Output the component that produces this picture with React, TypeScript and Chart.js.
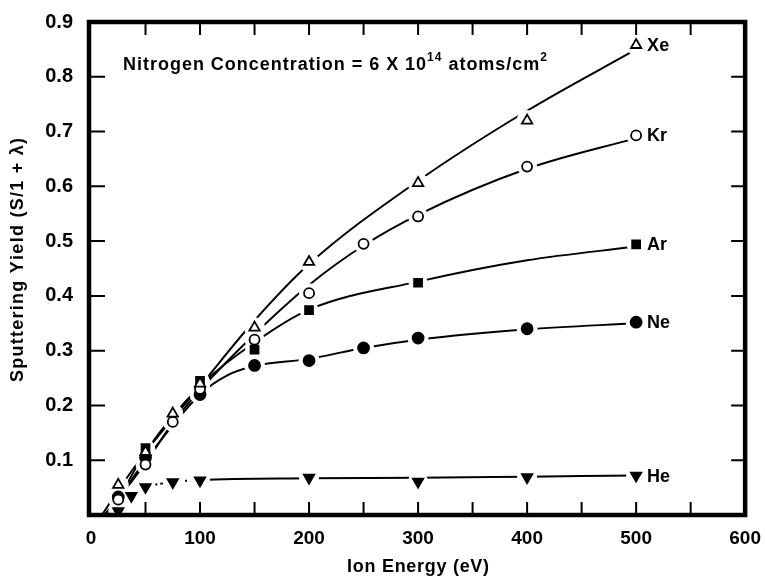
import React, { useEffect, useRef } from "react";
import { Chart, registerables } from "chart.js";

Chart.register(...registerables);

// Axis ticks
const energyTicks = [0, 100, 200, 300, 400, 500, 600];
const yieldTicks = [0.1, 0.2, 0.3, 0.4, 0.5, 0.6, 0.7, 0.8, 0.9];

// Measured sputtering yields (eV, S/1+λ)
const xeEnergy = [25, 50, 75, 100, 150, 200, 300, 400, 500];
const xeYield = [0.055, 0.115, 0.185, 0.24, 0.342, 0.462, 0.606, 0.72, 0.858];
const krEnergy = [25, 50, 75, 100, 150, 200, 250, 300, 400, 500];
const krYield = [0.028, 0.092, 0.17, 0.23, 0.32, 0.405, 0.495, 0.545, 0.636, 0.693];
const arEnergy = [50, 100, 150, 200, 300, 500];
const arYield = [0.122, 0.245, 0.302, 0.374, 0.424, 0.494];
const neEnergy = [25, 50, 100, 150, 200, 250, 300, 400, 500];
const neYield = [0.033, 0.105, 0.22, 0.273, 0.282, 0.305, 0.323, 0.34, 0.352];
const heEnergy = [25, 37, 50, 75, 100, 200, 300, 400, 500];
const heYield = [0.007, 0.035, 0.051, 0.06, 0.063, 0.068, 0.061, 0.069, 0.072];

// Smoothed fit curves drawn through the data
const xeCurveEnergy = [10, 25, 50, 100, 150, 200, 300, 400, 500];
const xeCurveYield = [0, 0.045, 0.115, 0.235, 0.355, 0.458, 0.61, 0.738, 0.85];
const krCurveEnergy = [12, 25, 50, 75, 100, 150, 200, 250, 300, 400, 500];
const krCurveYield = [0, 0.03, 0.095, 0.168, 0.228, 0.33, 0.42, 0.492, 0.548, 0.632, 0.688];
const arCurveEnergy = [14, 25, 50, 100, 150, 200, 300, 400, 500];
const arCurveYield = [0, 0.03, 0.115, 0.235, 0.315, 0.375, 0.426, 0.465, 0.49];
const neCurveEnergy = [16, 25, 50, 100, 125, 150, 200, 250, 300, 400, 500];
const neCurveYield = [0, 0.028, 0.1, 0.22, 0.255, 0.272, 0.285, 0.305, 0.32, 0.339, 0.35];
const heCurveEnergy = [18, 25, 37, 50, 75, 100, 200, 300, 400, 500];
const heCurveYield = [0, 0.01, 0.035, 0.05, 0.06, 0.064, 0.067, 0.068, 0.07, 0.072];

const gasNames = ["Xe", "Kr", "Ar", "Ne", "He"];

const annotationParts = [
  { text: "Nitrogen Concentration = 6 X 10", sup: false },
  { text: "14", sup: true },
  { text: " atoms/cm", sup: false },
  { text: "2", sup: true },
];
const xTitle = "Ion Energy (eV)";
const yTitle = "Sputtering Yield (S/1 + λ)";

const FONT = '"Liberation Sans", Arial, Helvetica, sans-serif';
const INK = "#000";

const pts = (xs: number[], ys: number[]) => xs.map((x, i) => ({ x, y: ys[i] }));

function naturalWidth(ctx: CanvasRenderingContext2D, text: string) {
  let w = 0;
  for (const ch of text) w += ctx.measureText(ch).width;
  return w;
}

function drawSpaced(ctx: CanvasRenderingContext2D, text: string, x: number, y: number, spacing: number) {
  let cx = x;
  for (const ch of text) {
    ctx.fillText(ch, cx, y);
    cx += ctx.measureText(ch).width + spacing;
  }
  return cx;
}

function drawTracked(ctx: CanvasRenderingContext2D, text: string, cx: number, cy: number, target: number) {
  const n = [...text].length;
  const w = naturalWidth(ctx, text);
  const sp = (target - w) / (n - 1);
  drawSpaced(ctx, text, cx - target / 2, cy, sp);
}

// Frame, inward ticks, annotation, curve labels and axis titles
const decorations = {
  id: "decorations",
  afterDraw(chart: any) {
    const { ctx, chartArea: a, scales } = chart;
    const xs = scales.x;
    const ys = scales.y;
    ctx.save();
    ctx.strokeStyle = INK;
    ctx.fillStyle = INK;

    ctx.lineWidth = 2;
    ctx.beginPath();
    for (let e = 50; e < 600; e += 50) {
      const px = xs.getPixelForValue(e);
      ctx.moveTo(px, a.bottom);
      ctx.lineTo(px, a.bottom - 13);
      ctx.moveTo(px, a.top);
      ctx.lineTo(px, a.top + 13);
    }
    for (const v of yieldTicks) {
      if (v >= 0.9) continue;
      const py = ys.getPixelForValue(v);
      ctx.moveTo(a.left, py);
      ctx.lineTo(a.left + 14, py);
      ctx.moveTo(a.right, py);
      ctx.lineTo(a.right - 14, py);
    }
    ctx.stroke();

    ctx.lineWidth = 4.5;
    ctx.strokeRect(a.left - 2, a.top, a.right - a.left + 2, a.bottom - a.top);

    const mainFont = `bold 18px ${FONT}`;
    const supFont = `bold 12px ${FONT}`;
    ctx.textBaseline = "alphabetic";
    let nat = 0;
    let count = 0;
    for (const p of annotationParts) {
      ctx.font = p.sup ? supFont : mainFont;
      nat += naturalWidth(ctx, p.text);
      count += [...p.text].length;
    }
    const target = 424;
    const sp = (target - nat) / (count - 1);
    let cx = a.left + 32;
    const base = a.top + 48;
    for (const p of annotationParts) {
      ctx.font = p.sup ? supFont : mainFont;
      cx = drawSpaced(ctx, p.text, cx, p.sup ? base - 9 : base, sp);
    }

    ctx.font = `bold 18px ${FONT}`;
    ctx.textBaseline = "middle";
    ctx.textAlign = "left";
    const ends = [
      [xeEnergy, xeYield],
      [krEnergy, krYield],
      [arEnergy, arYield],
      [neEnergy, neYield],
      [heEnergy, heYield],
    ];
    ends.forEach(([e, y], i) => {
      const last = e.length - 1;
      ctx.fillText(gasNames[i], xs.getPixelForValue(e[last]) + 11, ys.getPixelForValue(y[last]) + 1);
    });

    ctx.font = `bold 18px ${FONT}`;
    ctx.textBaseline = "middle";
    drawTracked(ctx, xTitle, (a.left + a.right) / 2, 567, 142);
    ctx.save();
    ctx.translate(18, 260);
    ctx.rotate(-Math.PI / 2);
    drawTracked(ctx, yTitle, 0, 0, 244);
    ctx.restore();

    ctx.restore();
  },
};

function lineSet(xs: number[], ys: number[], dashedBelow = 0) {
  return {
    data: pts(xs, ys),
    showLine: true,
    borderColor: INK,
    borderWidth: 2,
    pointRadius: 0,
    tension: 0.4,
    cubicInterpolationMode: "monotone",
    order: 30,
    segment: dashedBelow
      ? { borderDash: (c: any) => (xs[c.p1DataIndex] <= dashedBelow ? [7, 3, 2, 3] : undefined) }
      : undefined,
  };
}

// white discs behind the markers so the curves break around them
function haloSet(xs: number[], ys: number[], r: number) {
  return {
    data: pts(xs, ys),
    showLine: false,
    pointStyle: "circle",
    pointRadius: r,
    pointBackgroundColor: "#fff",
    pointBorderWidth: 1,
    pointBorderColor: "#fff",
    order: 20,
  };
}

function markerSet(xs: number[], ys: number[], style: string, r: number, filled: boolean, rotation = 0) {
  return {
    data: pts(xs, ys),
    showLine: false,
    pointStyle: style,
    pointRadius: r,
    pointRotation: rotation,
    pointBackgroundColor: filled ? INK : "#fff",
    pointBorderColor: INK,
    pointBorderWidth: 1.8,
    order: 10,
  };
}

export default function App() {
  const ref = useRef<HTMLCanvasElement | null>(null);

  useEffect(() => {
    document.body.style.margin = "0";
    const canvas = ref.current;
    if (!canvas) return;
    const chart = new Chart(canvas, {
      type: "scatter",
      data: {
        datasets: [
          lineSet(xeCurveEnergy, xeCurveYield),
          lineSet(krCurveEnergy, krCurveYield),
          lineSet(arCurveEnergy, arCurveYield),
          lineSet(neCurveEnergy, neCurveYield),
          lineSet(heCurveEnergy, heCurveYield, 100),
          haloSet(xeEnergy, xeYield, 10),
          haloSet(krEnergy, krYield, 9.5),
          haloSet(arEnergy, arYield, 9),
          haloSet(neEnergy, neYield, 10),
          haloSet(heEnergy, heYield, 9.5),
          markerSet(xeEnergy, xeYield, "triangle", 6, false),
          markerSet(krEnergy, krYield, "circle", 5, false),
          markerSet(arEnergy, arYield, "rect", 5.6, true),
          markerSet(neEnergy, neYield, "circle", 5.5, true),
          markerSet(heEnergy, heYield, "triangle", 6, true, 180),
        ] as any,
      },
      options: {
        animation: false,
        responsive: false,
        layout: { padding: { top: 20, right: 18, left: 0, bottom: 0 } },
        plugins: { legend: { display: false }, tooltip: { enabled: false } },
        scales: {
          x: {
            type: "linear",
            min: 0,
            max: 600,
            afterFit: (s: any) => {
              s.height = 61;
            },
            afterBuildTicks: (s: any) => {
              s.ticks = energyTicks.map((v) => ({ value: v }));
            },
            grid: { display: false },
            border: { display: false },
            ticks: {
              padding: 4,
              color: INK,
              font: { family: FONT, size: 19, weight: "bold" },
              callback: (v: any) => String(v),
            },
          },
          y: {
            type: "linear",
            min: 0,
            max: 0.9,
            afterFit: (s: any) => {
              s.width = 91;
            },
            afterBuildTicks: (s: any) => {
              s.ticks = yieldTicks.map((v) => ({ value: v }));
            },
            grid: { display: false },
            border: { display: false },
            ticks: {
              padding: 10,
              color: INK,
              font: { family: FONT, size: 20, weight: "bold" },
              callback: (v: any) => Number(v).toFixed(1),
            },
          },
        },
      },
      plugins: [decorations],
    } as any);
    return () => chart.destroy();
  }, []);

  return (
    <div style={{ width: 765, height: 576 }}>
      <canvas ref={ref} width={765} height={576} />
    </div>
  );
}
